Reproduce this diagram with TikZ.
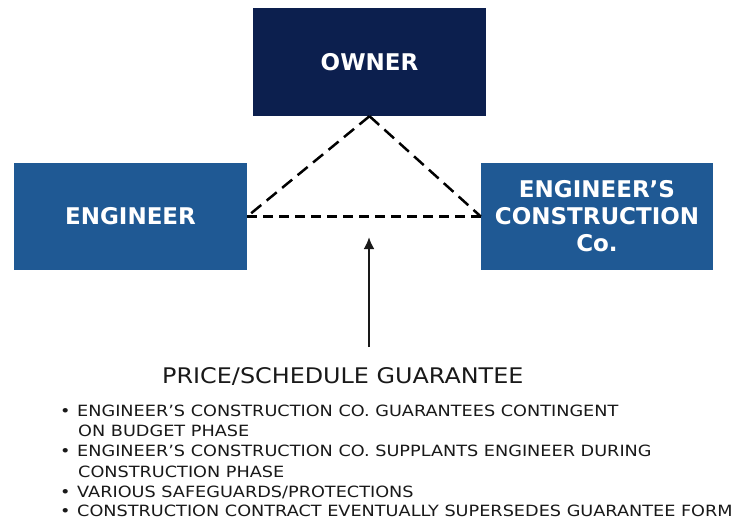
\documentclass[tikz,border=0pt]{standalone}
\usepackage{fontspec}
\usetikzlibrary{arrows.meta}
\newfontfamily\boxfont{DejaVu Sans Bold}
\newfontfamily\txtfont[FakeStretch=1.14]{DejaVu Sans}
\newfontfamily\ttlfont[FakeStretch=1.11]{DejaVu Sans}
\definecolor{ownerblue}{HTML}{0C1F4E}
\definecolor{partyblue}{HTML}{1F5994}
\tikzset{
  party/.style={fill=partyblue, text=white, inner sep=0pt, minimum width=233pt, minimum height=107pt,
    align=center, font=\boxfont\fontsize{23}{27}\selectfont},
  owner/.style={party, fill=ownerblue, minimum height=108pt},
  rel/.style={dash pattern=on 13pt off 7pt, line width=2.5pt, black},
  relh/.style={rel, dash pattern=on 10pt off 6pt},
  bul/.style={anchor=base west, inner sep=0pt, text=black!90, font=\txtfont\fontsize{15.5}{18}\selectfont},
  ttl/.style={anchor=base west, inner sep=0pt, text=black!90, font=\ttlfont\fontsize{21.5}{24}\selectfont},
  guar/.style={-{Latex[length=12pt,width=11pt]}, line width=2.4pt, black!90}
}
\begin{document}
\begin{tikzpicture}[x=1pt,y=-1pt]
\fill[white] (0,0) rectangle (737,524);
\useasboundingbox (0,0) rectangle (737,524);
\node[owner] (owner) at (369.5,62) {OWNER};
\node[party] (eng) at (130.5,216.5) {ENGINEER};
\node[party, minimum width=232pt] (ecc) at (597,216.5) {ENGINEER’S\\CONSTRUCTION\\Co.};
\draw[rel] (owner.south) -- (eng.east);
\draw[rel] (owner.south) -- (ecc.west);
\draw[relh] (eng.east) -- (ecc.west);
\node[ttl] (title) at (162,383) {PRICE/SCHEDULE GUARANTEE};
\coordinate (abase) at (369,347);
\coordinate (atip) at (369,237);
\draw[guar] (abase) -- (atip);
\node[bul] (b1) at (60,416) {•};
\node[bul] (l1) at (77,416) {ENGINEER’S CONSTRUCTION CO. GUARANTEES CONTINGENT};
\node[bul] (l2) at (78,436) {ON BUDGET PHASE};
\node[bul] (b3) at (60,456) {•};
\node[bul] (l3) at (77,456) {ENGINEER’S CONSTRUCTION CO. SUPPLANTS ENGINEER DURING};
\node[bul] (l4) at (78,477) {CONSTRUCTION PHASE};
\node[bul] (b5) at (60,497) {•};
\node[bul] (l5) at (77,497) {VARIOUS SAFEGUARDS/PROTECTIONS};
\node[bul] (b6) at (60,516) {•};
\node[bul] (l6) at (77,516) {CONSTRUCTION CONTRACT EVENTUALLY SUPERSEDES GUARANTEE FORM};
\end{tikzpicture}
\end{document}
